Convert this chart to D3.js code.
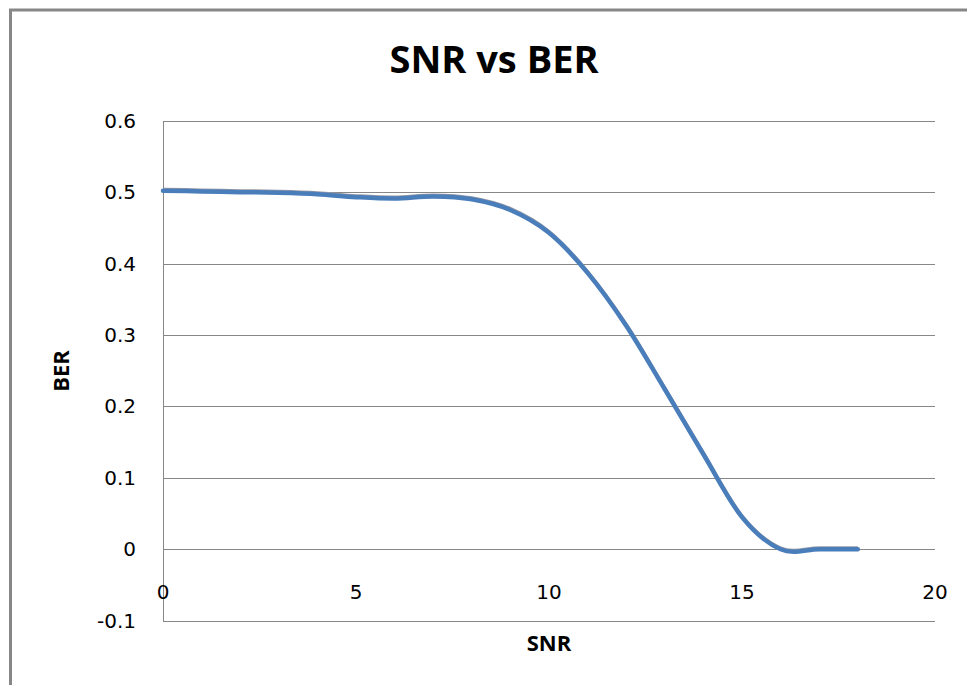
<!DOCTYPE html>
<html>
<head>
<meta charset="utf-8">
<script src="https://cdn.jsdelivr.net/npm/d3@7"></script>
<style>
  body { margin: 0; background: #fff; }
  svg { display: block; }
</style>
</head>
<body>
<svg id="chart" width="967" height="685"></svg>
<script>
// data
var snr = [0, 1, 2, 3, 4, 5, 6, 7, 8, 9, 10, 11, 12, 13, 14, 15, 16, 17, 18];
var ber = [0.502, 0.501, 0.500, 0.499, 0.497, 0.493, 0.491, 0.494, 0.490, 0.475,
           0.443, 0.387, 0.313, 0.224, 0.133, 0.045, 0.000, 0.000, 0.000];
var xTicks = [0, 5, 10, 15, 20];
var yTicks = [-0.1, 0, 0.1, 0.2, 0.3, 0.4, 0.5, 0.6];

var svg = d3.select("#chart");
var points = snr.map((s, i) => ({x: s, y: ber[i]}));

var x = d3.scaleLinear().domain([0, 20]).range([163, 935]);
var y = d3.scaleLinear().domain([-0.1, 0.6]).range([620.7, 120.7]);

var grey = "#878787";
var tickFont = "'DejaVu Sans', sans-serif";
var titleFont = "'Open Sans', sans-serif";

// chart area frame (cut off on right and bottom)
svg.append("line").attr("x1", 10.5).attr("y1", 9).attr("x2", 10.5).attr("y2", 685)
	.attr("stroke", grey).attr("stroke-width", 3);
svg.append("line").attr("x1", 9).attr("y1", 10).attr("x2", 967).attr("y2", 10)
	.attr("stroke", grey).attr("stroke-width", 3);

// horizontal gridlines
svg.append("g").selectAll("line").data(yTicks).enter().append("line")
	.attr("x1", x(0)).attr("x2", x(20))
	.attr("y1", d => Math.round(y(d)) + 0.5).attr("y2", d => Math.round(y(d)) + 0.5)
	.attr("stroke", grey).attr("stroke-width", 1);

// y axis line
svg.append("line").attr("x1", x(0) + 0.5).attr("x2", x(0) + 0.5)
	.attr("y1", Math.round(y(0.6))).attr("y2", Math.round(y(-0.1)) + 1)
	.attr("stroke", grey).attr("stroke-width", 1);

// y tick labels (plain hyphen for the minus, as in the original)
svg.append("g").selectAll("text").data(yTicks).enter().append("text")
	.attr("x", 136).attr("y", d => y(d) + 7)
	.attr("text-anchor", "end")
	.attr("font-family", tickFont).attr("font-size", 20).attr("fill", "#000")
	.text(d => d3.format(".1~f")(d).replace("\u2212", "-"));

// x tick labels, next to the axis at 0
svg.append("g").selectAll("text").data(xTicks).enter().append("text")
	.attr("x", d => x(d)).attr("y", 599)
	.attr("text-anchor", "middle")
	.attr("font-family", tickFont).attr("font-size", 20).attr("fill", "#000")
	.text(d => d);

var smooth = d3.line().x(d => x(d.x)).y(d => y(d.y)).curve(d3.curveCatmullRom.alpha(0));

// faint grey shadow just above the curve
svg.append("path").datum(points).attr("d", smooth)
	.attr("transform", "translate(0,-1.5)")
	.attr("fill", "none").attr("stroke", "#9a9aa6").attr("stroke-width", 3);

// the smoothed series
svg.append("path").datum(points).attr("d", smooth)
	.attr("fill", "none").attr("stroke", "#4a7ebb").attr("stroke-width", 4.5)
	.attr("stroke-linejoin", "round").attr("stroke-linecap", "round");

// titles
svg.append("text").attr("x", 494).attr("y", 73).attr("text-anchor", "middle")
	.attr("font-family", titleFont).attr("font-weight", "bold").attr("font-size", 38)
	.text("SNR vs BER");
svg.append("text").attr("x", 549).attr("y", 651).attr("text-anchor", "middle")
	.attr("font-family", titleFont).attr("font-weight", "bold").attr("font-size", 22)
	.text("SNR");
svg.append("text").attr("transform", "translate(69,371) rotate(-90)").attr("text-anchor", "middle")
	.attr("font-family", titleFont).attr("font-weight", "bold").attr("font-size", 22)
	.text("BER");
</script>
</body>
</html>
